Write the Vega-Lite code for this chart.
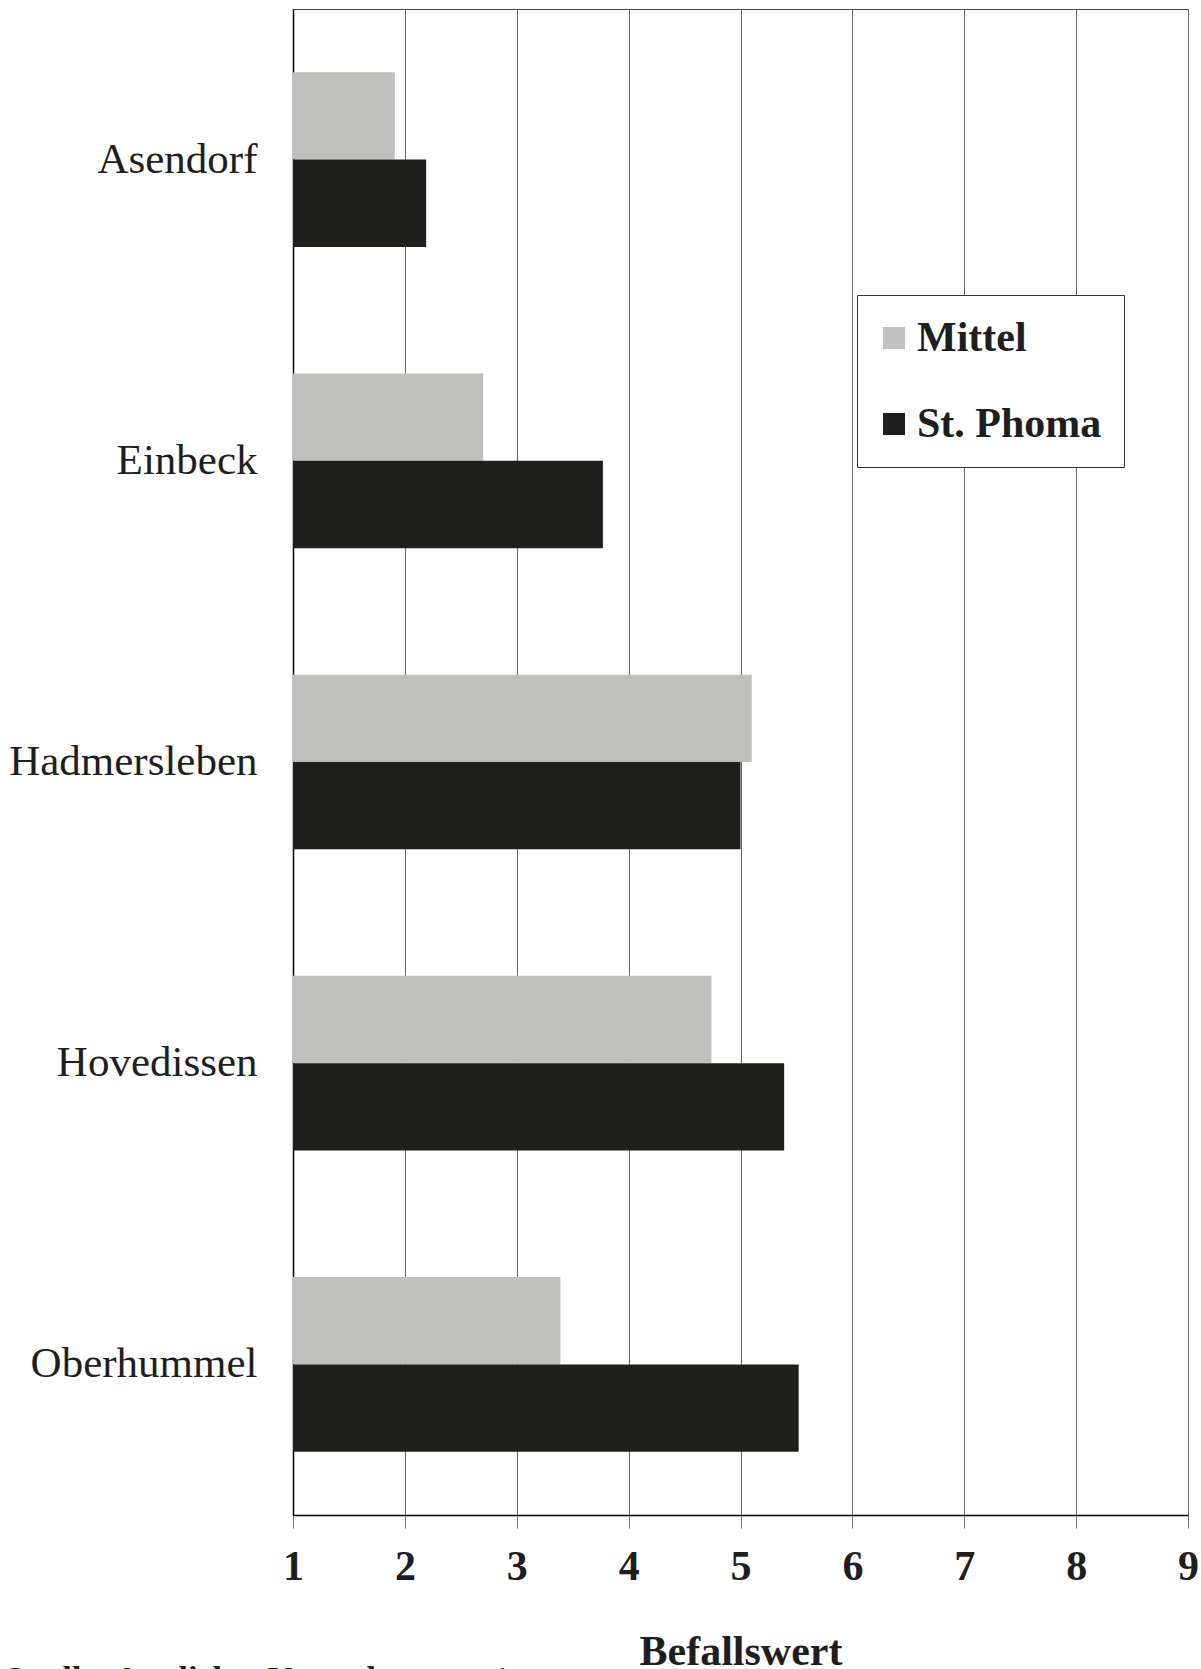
{
  "$schema": "https://vega.github.io/schema/vega-lite/v6.json",
  "width": 895,
  "height": 1506,
  "autosize": {"type": "none"},
  "padding": {"left": 293, "top": 9, "right": 13, "bottom": 154},
  "background": "#ffffff",
  "config": {
    "view": {"stroke": "#444444", "strokeWidth": 1},
    "font": "Liberation Serif"
  },
  "title": {
    "text": "Quelle: Amtliches Versuchswesen /",
    "orient": "bottom",
    "anchor": "start",
    "frame": "group",
    "dx": -291,
    "offset": -9,
    "fontSize": 34,
    "font": "Liberation Serif",
    "fontWeight": "bold",
    "color": "#1e1e1e"
  },
  "data": {
    "values": [
      {"Ort": "Asendorf", "Serie": "Mittel", "Wert": 1.91},
      {"Ort": "Asendorf", "Serie": "St. Phoma", "Wert": 2.19},
      {"Ort": "Einbeck", "Serie": "Mittel", "Wert": 2.70},
      {"Ort": "Einbeck", "Serie": "St. Phoma", "Wert": 3.77},
      {"Ort": "Hadmersleben", "Serie": "Mittel", "Wert": 5.10},
      {"Ort": "Hadmersleben", "Serie": "St. Phoma", "Wert": 5.00},
      {"Ort": "Hovedissen", "Serie": "Mittel", "Wert": 4.74},
      {"Ort": "Hovedissen", "Serie": "St. Phoma", "Wert": 5.39},
      {"Ort": "Oberhummel", "Serie": "Mittel", "Wert": 3.39},
      {"Ort": "Oberhummel", "Serie": "St. Phoma", "Wert": 5.52}
    ]
  },
  "mark": {"type": "bar"},
  "encoding": {
    "y": {
      "field": "Ort",
      "type": "nominal",
      "sort": ["Asendorf", "Einbeck", "Hadmersleben", "Hovedissen", "Oberhummel"],
      "scale": {"paddingInner": 0.42, "paddingOuter": 0.21},
      "axis": {
        "title": null,
        "ticks": false,
        "grid": false,
        "labelFontSize": 43,
        "labelFont": "Liberation Serif",
        "labelColor": "#1e1e1e",
        "labelPadding": 36,
        "labelLimit": 0,
        "domainColor": "#000000",
        "domainWidth": 1.5
      }
    },
    "yOffset": {"field": "Serie", "sort": ["Mittel", "St. Phoma"]},
    "x": {
      "field": "Wert",
      "type": "quantitative",
      "scale": {"domain": [1, 9], "zero": false, "nice": false},
      "axis": {
        "values": [1, 2, 3, 4, 5, 6, 7, 8, 9],
        "format": "d",
        "title": "Befallswert",
        "titleFontSize": 42,
        "titleFont": "Liberation Serif",
        "titleFontWeight": "bold",
        "titleColor": "#1e1e1e",
        "titlePadding": 44,
        "labelFontSize": 42,
        "labelFont": "Liberation Serif",
        "labelFontWeight": "bold",
        "labelColor": "#1e1e1e",
        "labelPadding": 18,
        "labelFlush": false,
        "tickSize": 13,
        "tickColor": "#777777",
        "domainColor": "#000000",
        "domainWidth": 1.5,
        "grid": true,
        "gridColor": "#666666",
        "gridWidth": 1
      }
    },
    "x2": {"datum": 1},
    "color": {
      "field": "Serie",
      "type": "nominal",
      "scale": {"domain": ["Mittel", "St. Phoma"], "range": ["#bfbfbe", "#1e1e1d"]},
      "legend": {
        "title": null,
        "orient": "none",
        "legendX": 564,
        "legendY": 286,
        "symbolType": "square",
        "symbolSize": 484,
        "symbolStrokeWidth": 0,
        "symbolOffset": -6,
        "labelFontSize": 42,
        "labelFont": "Liberation Serif",
        "labelFontWeight": "bold",
        "labelColor": "#1e1e1e",
        "labelOffset": 2,
        "labelLimit": 0,
        "padding": 22,
        "rowPadding": 44,
        "strokeColor": "#333333",
        "fillColor": "#ffffff"
      }
    }
  }
}
